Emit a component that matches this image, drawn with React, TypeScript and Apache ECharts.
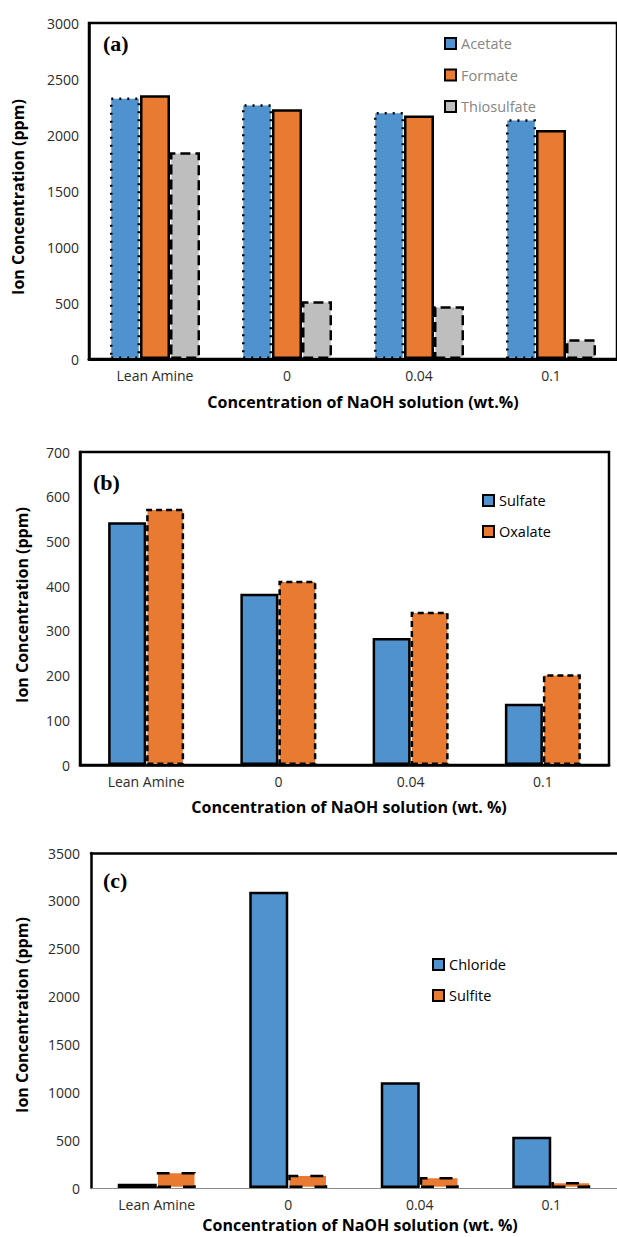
import React, { useEffect, useRef } from "react";
import * as echarts from "echarts";

const categories = ["Lean Amine", "0", "0.04", "0.1"];

// Panel (a)
const acetate = [2335, 2275, 2205, 2140];
const formate = [2355, 2230, 2175, 2045];
const thiosulfate = [1845, 515, 472, 176];

// Panel (b)
const sulfate = [543, 383, 284, 137];
const oxalate = [573, 412, 343, 203];

// Panel (c)
const chloride = [45, 3095, 1105, 535];
const sulfite = [168, 139, 115, 63];

const yTitle = "Ion Concentration (ppm)";
const xTitleA = "Concentration of NaOH solution (wt.%)";
const xTitleBC = "Concentration of NaOH solution (wt. %)";

const BLUE = "#4F92CE";
const ORANGE = "#E97A31";
const GRAY = "#BEBEBE";
const FONT = "Open Sans";

export default function App() {
  const ref = useRef<HTMLDivElement>(null);

  useEffect(() => {
    if (!ref.current) return;
    const chart = echarts.init(ref.current, undefined, { renderer: "svg" });

    const axisLabel = { fontSize: 14, color: "#2b2b2b", fontFamily: FONT };

    const xAxisBase = (gridIndex: number, lineColor = "#000", lineWidth = 2) => ({
      type: "category",
      gridIndex,
      data: categories,
      axisTick: { show: false },
      axisLine: { show: true, lineStyle: { color: lineColor, width: lineWidth } },
      axisLabel: { ...axisLabel, margin: 9 },
      z: 5,
    });

    const yAxisBase = (gridIndex: number, max: number, interval: number, margin: number) => ({
      type: "value",
      gridIndex,
      min: 0,
      max,
      interval,
      splitLine: { show: false },
      axisTick: { show: false },
      axisLine: { show: true, lineStyle: { color: "#000", width: 2.5 } },
      axisLabel: { ...axisLabel, margin, formatter: (v: number) => String(v) },
    });

    const bar = (
      name: string,
      data: number[],
      color: string,
      idx: number,
      barWidth: number,
      borderType: any,
      borderWidth = 2.5
    ) => ({
      name,
      type: "bar",
      xAxisIndex: idx,
      yAxisIndex: idx,
      data,
      barWidth,
      barGap: "0%",
      itemStyle: {
        color,
        borderColor: "#000",
        borderWidth,
        borderType,
      },
    });

    const legendBase = (data: string[], left: number, top: number, color: string, itemGap: number) => ({
      data,
      orient: "vertical",
      left,
      top,
      padding: 0,
      itemWidth: 11,
      itemHeight: 11,
      itemGap,
      icon: "rect",
      textStyle: { fontSize: 14.5, color, fontFamily: FONT, lineHeight: 14 },
      selectedMode: false,
    });

    const label = (text: string, x: number, y: number) => ({
      type: "text",
      x,
      y,
      style: {
        text,
        font: "bold 22px 'Liberation Serif'",
        fill: "#000",
        textAlign: "left",
        textVerticalAlign: "middle",
      },
    });

    const yT = (x: number, y: number) => ({
      type: "text",
      x,
      y,
      rotation: Math.PI / 2,
      style: {
        text: yTitle,
        font: `bold 16px '${FONT}'`,
        fill: "#000",
        textAlign: "center",
        textVerticalAlign: "middle",
      },
    });

    const xT = (text: string, x: number, y: number) => ({
      type: "text",
      x,
      y,
      style: {
        text,
        font: `bold 16px '${FONT}'`,
        fill: "#000",
        textAlign: "center",
        textVerticalAlign: "middle",
      },
    });

    chart.setOption({
      animation: false,
      textStyle: { fontFamily: FONT },
      grid: [
        { left: 89, top: 23, width: 538, height: 336, show: true, borderColor: "#000", borderWidth: 2.5, backgroundColor: "transparent" },
        { left: 80, top: 452, width: 529, height: 313, show: true, borderColor: "#000", borderWidth: 2.5, backgroundColor: "transparent" },
        { left: 91, top: 853, width: 528, height: 335 },
      ],
      xAxis: [
        xAxisBase(0, "#000", 3),
        xAxisBase(1, "#000", 2.5),
        xAxisBase(2, "#8a8a8a", 1),
        {
          type: "category",
          gridIndex: 2,
          position: "top",
          data: categories,
          axisTick: { show: false },
          axisLabel: { show: false },
          axisLine: { show: true, lineStyle: { color: "#000", width: 2.5 } },
        },
      ],
      yAxis: [
        yAxisBase(0, 3000, 500, 10),
        yAxisBase(1, 700, 100, 10),
        yAxisBase(2, 3500, 500, 11),
      ],
      legend: [
        legendBase(["Acetate", "Formate", "Thiosulfate"], 444, 36, "#858585", 16.5),
        legendBase(["Sulfate", "Oxalate"], 482, 493, "#000", 16),
        legendBase(["Chloride", "Sulfite"], 432, 957, "#000", 16),
      ],
      series: [
        bar("Acetate", acetate, BLUE, 0, 30, [2, 6]),
        bar("Formate", formate, ORANGE, 0, 30, "solid"),
        bar("Thiosulfate", thiosulfate, GRAY, 0, 30, [10, 5]),
        bar("Sulfate", sulfate, BLUE, 1, 38, "solid"),
        bar("Oxalate", oxalate, ORANGE, 1, 38, [6, 4]),
        bar("Chloride", chloride, BLUE, 2, 39, "solid"),
        bar("Sulfite", sulfite, ORANGE, 2, 39, [13, 12]),
      ],
      graphic: [
        label("(a)", 103, 43),
        label("(b)", 93, 482),
        label("(c)", 103, 880),
        yT(18, 197),
        yT(22, 605),
        yT(22, 1015),
        xT(xTitleA, 363, 402),
        xT(xTitleBC, 349, 807),
        xT(xTitleBC, 360, 1225),
      ],
    });

    return () => chart.dispose();
  }, []);

  return (
    <div
      ref={ref}
      style={{ position: "absolute", left: 0, top: 0, width: 617, height: 1237, background: "#fff" }}
    />
  );
}
